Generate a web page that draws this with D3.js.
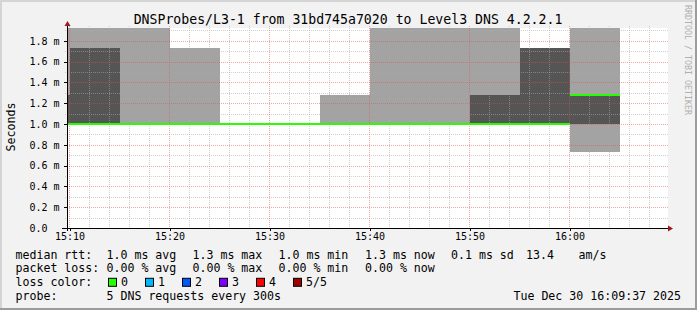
<!DOCTYPE html>
<html lang="en">
<head>
<meta charset="UTF-8">
<title>DNSProbes/L3-1</title>
<script src="https://d3js.org/d3.v7.min.js"></script>
<style>
  body { margin: 0; background: #fff; }
  svg { display: block; font-family: "DejaVu Sans Mono", monospace; }
</style>
</head>
<body>
<div id="chart"></div>
<script>
// each value covers the 5 minutes ending at the step time
const stepEnds = ["15:10", "15:15", "15:20", "15:25", "15:30", "15:35", "15:40", "15:45", "15:50", "15:55", "16:00", "16:05"];
// the 5 sorted pings of each step, in ms (values above the top are clipped in the picture)
const ping1 = [1.0, 1.0, 1.0, 1.0, 1.0, 1.0, 1.0, 1.0, 1.0, 1.0, 1.0, 0.73];
const ping2 = [1.0, 1.0, 1.0, 1.0, 1.0, 1.0, 1.0, 1.0, 1.0, 1.0, 1.0, 1.0];
const ping3 = [1.0, 1.0, 1.0, 1.0, 1.0, 1.0, 1.0, 1.0, 1.0, 1.0, 1.0, 1.28];
const ping4 = [1.28, 1.73, 1.0, 1.0, 1.0, 1.0, 1.0, 1.0, 1.0, 1.28, 1.73, 1.28];
const ping5 = [2.0, 2.0, 2.0, 1.73, 1.0, 1.0, 1.28, 2.0, 2.0, 2.0, 1.73, 2.0];
const medianRtt = [1.0, 1.0, 1.0, 1.0, 1.0, 1.0, 1.0, 1.0, 1.0, 1.0, 1.0, 1.28];
const lossCount = [0, 0, 0, 0, 0, 0, 0, 0, 0, 0, 0, 0];

const yTicks = [0, 0.2, 0.4, 0.6, 0.8, 1.0, 1.2, 1.4, 1.6, 1.8];
const yTickLabels = ["0.0", "0.2 m", "0.4 m", "0.6 m", "0.8 m", "1.0 m", "1.2 m", "1.4 m", "1.6 m", "1.8 m"];
const xTicks = ["15:10", "15:20", "15:30", "15:40", "15:50", "16:00"];

const lossLabels = ["0", "1", "2", "3", "4", "5/5"];
const lossColors = ["#26ff00", "#00b8ff", "#0059ff", "#7e00ff", "#ff0000", "#a10000"];

const W = 697, H = 310;
const pL = 67, pR = 667, pT = 28, pB = 228;

const parseHM = d3.timeParse("%H:%M");
const parseHMS = d3.timeParse("%H:%M:%S");

const svg = d3.select("#chart").append("svg")
    .attr("width", W)
    .attr("height", H);

// background + shaded frame
svg.append("rect").attr("width", W).attr("height", H).attr("fill", "#f2f2f2");
svg.append("path").attr("d", `M0,${H} V0 H${W}`).attr("fill", "none")
    .attr("stroke", "#d4d4d4").attr("stroke-width", 4);
svg.append("path").attr("d", `M${W},0 V${H} H0`).attr("fill", "none")
    .attr("stroke", "#9c9c9c").attr("stroke-width", 4);

const x = d3.scaleTime()
    .domain([parseHMS("15:09:45"), parseHMS("16:09:45")])
    .range([pL, pR]);

const y = d3.scaleLinear()
    .domain([0, 200 / 104])
    .range([pB, pT]);

svg.append("rect")
    .attr("x", pL).attr("y", pT)
    .attr("width", pR - pL + 1).attr("height", pB - pT)
    .attr("fill", "#fff");

svg.append("clipPath").attr("id", "plot")
    .append("rect").attr("x", pL).attr("y", pT)
    .attr("width", pR - pL + 1).attr("height", pB - pT);

// smoke: bands between consecutive pings, darker in the middle
const pings = [ping1, ping2, ping3, ping4, ping5];
const bandColor = ["#a3a3a3", "#555555", "#555555", "#a3a3a3"];
const smoke = [];
stepEnds.forEach((t, i) => {
    const end = parseHM(t);
    const start = d3.timeMinute.offset(end, -5);
    for (let k = 0; k < 4; k++) {
        const lo = pings[k][i], hi = pings[k + 1][i];
        if (hi > lo) smoke.push({ start, end, lo, hi, k });
    }
});

svg.append("g").attr("clip-path", "url(#plot)")
    .selectAll("rect")
    .data(smoke)
    .enter().append("rect")
    .attr("x", d => Math.round(x(d.start)))
    .attr("width", d => Math.round(x(d.end)) - Math.round(x(d.start)))
    .attr("y", d => Math.round(y(d.hi)))
    .attr("height", d => Math.round(y(d.lo)) - Math.round(y(d.hi)))
    .attr("fill", d => bandColor[d.k])
    .attr("shape-rendering", "crispEdges");

// grid
const grid = svg.append("g").attr("shape-rendering", "crispEdges");
const minorY = d3.range(1, 20).map(v => v / 10).filter(v => Math.round(v * 10) % 2 === 1);
const minorX = d3.timeMinute.every(2).range(parseHM("15:10"), x.domain()[1])
    .filter(d => d.getMinutes() % 10 !== 0);

grid.selectAll(".gy").data(minorY).enter().append("line")
    .attr("x1", pL - 2).attr("x2", pR + 2)
    .attr("y1", d => Math.round(y(d)) + 0.5).attr("y2", d => Math.round(y(d)) + 0.5)
    .attr("stroke", "rgba(170,170,170,0.55)").attr("stroke-dasharray", "1,1");
grid.selectAll(".gx").data(minorX).enter().append("line")
    .attr("y1", pT - 2).attr("y2", pB + 2)
    .attr("x1", d => Math.floor(x(d)) + 0.5).attr("x2", d => Math.floor(x(d)) + 0.5)
    .attr("stroke", "rgba(170,170,170,0.55)").attr("stroke-dasharray", "1,1");
grid.selectAll(".my").data(yTicks.slice(1)).enter().append("line")
    .attr("x1", pL - 2).attr("x2", pR + 2)
    .attr("y1", d => Math.round(y(d)) + 0.5).attr("y2", d => Math.round(y(d)) + 0.5)
    .attr("stroke", "rgba(224,80,80,0.5)").attr("stroke-dasharray", "1,1");
grid.selectAll(".mx").data(xTicks).enter().append("line")
    .attr("y1", pT - 2).attr("y2", pB + 2)
    .attr("x1", d => Math.floor(x(parseHM(d))) + 0.5).attr("x2", d => Math.floor(x(parseHM(d))) + 0.5)
    .attr("stroke", "rgba(224,80,80,0.5)").attr("stroke-dasharray", "1,1");

// median rtt, coloured by loss
svg.append("g").attr("clip-path", "url(#plot)")
    .selectAll("line")
    .data(stepEnds.map((t, i) => ({ end: parseHM(t), v: medianRtt[i], loss: lossCount[i] })))
    .enter().append("line")
    .attr("x1", d => Math.round(x(d3.timeMinute.offset(d.end, -5))))
    .attr("x2", d => Math.round(x(d.end)))
    .attr("y1", d => Math.round(y(d.v)))
    .attr("y2", d => Math.round(y(d.v)))
    .attr("stroke", d => lossColors[d.loss])
    .attr("stroke-width", 2)
    .attr("shape-rendering", "crispEdges");

// axes
const yAxis = svg.append("g")
    .attr("transform", `translate(${pL},0)`)
    .call(d3.axisLeft(y).tickValues(yTicks).tickFormat((d, i) => yTickLabels[i]).tickSize(3));
const xAxis = svg.append("g")
    .attr("transform", `translate(0,${pB})`)
    .call(d3.axisBottom(x).tickValues(xTicks.map(parseHM)).tickFormat(d3.timeFormat("%H:%M")).tickSize(3));

[yAxis, xAxis].forEach(g => {
    g.attr("font-family", "DejaVu Sans Mono").attr("font-size", 10);
    g.select(".domain").remove();
    g.selectAll("line").attr("shape-rendering", "crispEdges");
});
yAxis.selectAll("text").attr("x", -37.5).attr("text-anchor", "start").attr("fill", "#000");
xAxis.selectAll("text").attr("y", 12).attr("dy", 0).attr("fill", "#000");

svg.append("line").attr("x1", pL - 5).attr("x2", pR + 2)
    .attr("y1", pB + 0.5).attr("y2", pB + 0.5).attr("stroke", "#000");
svg.append("line").attr("x1", pL + 0.5).attr("x2", pL + 0.5)
    .attr("y1", pB + 3).attr("y2", pT - 3).attr("stroke", "#000");
svg.append("path").attr("d", `M${pR + 1},${pB - 2.5} L${pR + 6},${pB + 0.5} L${pR + 1},${pB + 3.5} Z`)
    .attr("fill", "#9b1c1c");
svg.append("path").attr("d", `M${pL - 2.5},${pT - 2} L${pL + 0.5},${pT - 7} L${pL + 3.5},${pT - 2} Z`)
    .attr("fill", "#9b1c1c");

// titles
svg.append("text").attr("x", 348).attr("y", 24).attr("text-anchor", "middle")
    .attr("font-size", 13.2).text("DNSProbes/L3-1 from 31bd745a7020 to Level3 DNS 4.2.2.1");
svg.append("text").attr("transform", "translate(15,127) rotate(-90)").attr("text-anchor", "middle")
    .attr("font-size", 11.6).text("Seconds");
svg.append("text").attr("transform", "translate(685,5) rotate(90)")
    .attr("font-size", 8.3).attr("fill", "#b0b0b0").text("RRDTOOL / TOBI OETIKER");

// legend
const legend = svg.append("g").attr("font-size", 11.6).attr("fill", "#000");
const rows = [258.5, 272.2, 285.8, 299.5];
const cols = [15.5, 106.5, 192.5, 278.5, 365, 451, 526, 578.5];
const legendRows = [
    ["median rtt:", "1.0 ms avg", "1.3 ms max", "1.0 ms min", "1.3 ms now", "0.1 ms sd", "13.4", "am/s"],
    ["packet loss:", "0.00 % avg", "0.00 % max", "0.00 % min", "0.00 % now"],
];
legendRows.forEach((row, r) => row.forEach((s, c) => {
    legend.append("text").attr("x", cols[c]).attr("y", rows[r]).text(s);
}));
legend.append("text").attr("x", cols[0]).attr("y", rows[2]).text("loss color:");
lossLabels.forEach((l, i) => {
    const bx = 108 + i * 37;
    legend.append("rect").attr("x", bx + 0.5).attr("y", rows[2] - 7.5).attr("width", 8).attr("height", 8)
        .attr("fill", lossColors[i]).attr("stroke", "#000").attr("stroke-width", 1);
    legend.append("text").attr("x", bx + 13).attr("y", rows[2]).text(l);
});
legend.append("text").attr("x", cols[0]).attr("y", rows[3]).text("probe:");
legend.append("text").attr("x", cols[1]).attr("y", rows[3]).text("5 DNS requests every 300s");
legend.append("text").attr("x", 681).attr("y", rows[3]).attr("text-anchor", "end").text("Tue Dec 30 16:09:37 2025");
</script>
</body>
</html>
